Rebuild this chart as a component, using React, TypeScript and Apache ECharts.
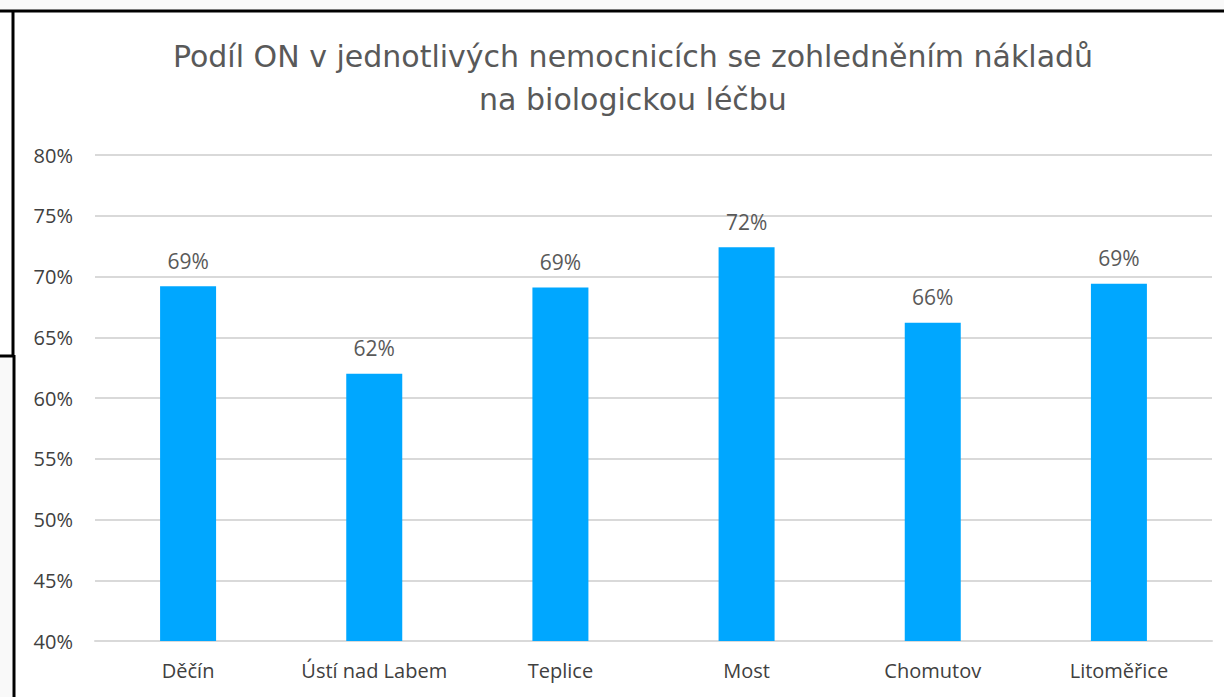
import React, { useEffect, useRef } from "react";
import * as echarts from "echarts";

const categories = ["Děčín", "Ústí nad Labem", "Teplice", "Most", "Chomutov", "Litoměřice"];
const values = [69.2, 62.0, 69.1, 72.4, 66.2, 69.4];
const titleText = "Podíl ON v jednotlivých nemocnicích se zohledněním nákladů\nna biologickou léčbu";

export default function App() {
  const ref = useRef<HTMLDivElement>(null);
  useEffect(() => {
    if (!ref.current) return;
    const chart = echarts.init(ref.current, null, { renderer: "svg" });
    const font = "'Open Sans', 'Noto Sans', sans-serif";
    chart.setOption({
      animation: false,
      backgroundColor: "#ffffff",
      title: {
        text: titleText,
        left: 628,
        textAlign: "center",
        top: 30,
        textStyle: {
          fontFamily: "'DejaVu Sans', sans-serif",
          fontSize: 30,
          fontWeight: "normal",
          color: "#595959",
          lineHeight: 43,
        },
      },
      grid: { left: 95, right: 12, top: 155, bottom: 56, containLabel: false },
      xAxis: {
        type: "category",
        data: categories,
        axisLine: { show: true, lineStyle: { color: "#d9d9d9", width: 2 } },
        axisTick: { show: false },
        axisLabel: { interval: 0, fontFamily: font, fontSize: 20, color: "#404040", margin: 19 },
      },
      yAxis: {
        type: "value",
        min: 40,
        max: 80,
        interval: 5,
        axisLine: { show: false },
        axisTick: { show: false },
        splitLine: { lineStyle: { color: "#d9d9d9", width: 2 } },
        axisLabel: {
          fontFamily: font,
          fontSize: 20,
          color: "#404040",
          margin: 22,
          formatter: (v: number) => `${v}%`,
        },
      },
      series: [
        {
          type: "bar",
          data: values,
          barWidth: 56,
          itemStyle: { color: "#00a7ff" },
          label: {
            show: true,
            position: "top",
            distance: 15,
            fontFamily: font,
            fontSize: 21,
            color: "#595959",
            formatter: (p: any) => `${Math.round(p.value)}%`,
          },
        },
      ],
      graphic: [
        { type: "rect", shape: { x: 0, y: 0, width: 1224, height: 10 }, style: { fill: "#f9f9f9" }, silent: true },
        { type: "rect", shape: { x: 0, y: 357, width: 12, height: 340 }, style: { fill: "#f9f9f9" }, silent: true },
        { type: "line", shape: { x1: 0, y1: 11, x2: 1224, y2: 11 }, style: { stroke: "#000", lineWidth: 3 }, silent: true },
        { type: "line", shape: { x1: 13, y1: 10, x2: 13, y2: 357 }, style: { stroke: "#000", lineWidth: 3 }, silent: true },
        { type: "line", shape: { x1: 0, y1: 356, x2: 14, y2: 356 }, style: { stroke: "#000", lineWidth: 3 }, silent: true },
        { type: "line", shape: { x1: 14, y1: 355, x2: 14, y2: 697 }, style: { stroke: "#000", lineWidth: 3 }, silent: true },
      ],
    });
    return () => chart.dispose();
  }, []);
  return (
    <div
      ref={ref}
      style={{ position: "absolute", left: 0, top: 0, width: 1224, height: 697 }}
    />
  );
}
